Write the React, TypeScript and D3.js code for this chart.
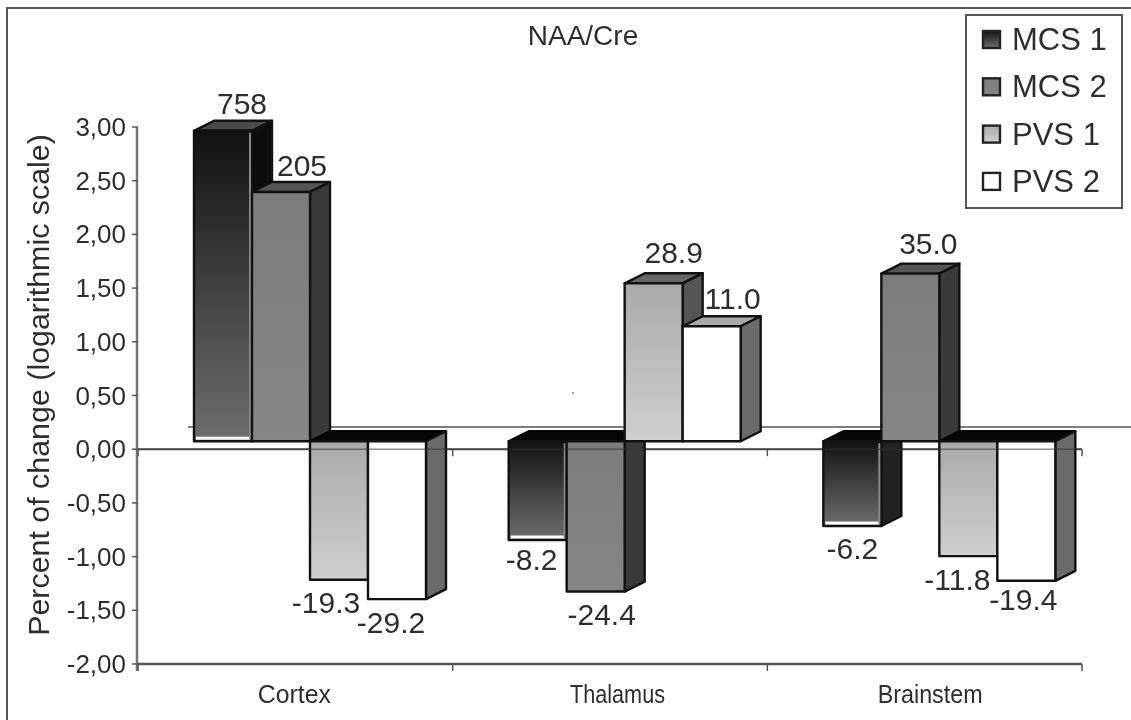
import React from "react";
import * as d3 from "d3";

const categories = ["Cortex", "Thalamus", "Brainstem"];
const seriesNames = ["MCS 1", "MCS 2", "PVS 1", "PVS 2"];
const mcs1 = [2.89, -0.92, -0.79];
const mcs2 = [2.32, -1.4, 1.56];
const pvs1 = [-1.29, 1.47, -1.07];
const pvs2 = [-1.47, 1.07, -1.3];
const mcs1Labels = ["758", "-8.2", "-6.2"];
const mcs2Labels = ["205", "-24.4", "35.0"];
const pvs1Labels = ["-19.3", "28.9", "-11.8"];
const pvs2Labels = ["-29.2", "11.0", "-19.4"];
const yTicks = [3, 2.5, 2, 1.5, 1, 0.5, 0, -0.5, -1, -1.5, -2];

const allValues = [mcs1, mcs2, pvs1, pvs2];
const allLabels = [mcs1Labels, mcs2Labels, pvs1Labels, pvs2Labels];
const fills = ["url(#g1)", "url(#g2)", "url(#g3)", "#fff"];
const sideFills = ["#0c0c0c", "#3a3a3a", "#555", "#6a6a6a"];
const topFills = ["#4a4a4a", "#555", "#666", "#aaa"];
const labelNudgeX = [[19, -6, 0], [21, 6, 18], [-13, 20, -11], [-6, 21, -3]];
const labelNudgeY = [[3, 2, 5], [4, 5, 0], [5, 0, 6], [6, 3, 1]];
const categoryNudge = [-1, 7.5, 5.5];
const categoryWidths = [73, 95, 105];

const W = 1131, H = 720;
const font = "Liberation Sans, Arial, sans-serif";
const ink = "#2e2e2e";
const fmt = (v: number) => d3.format(".2f")(v).replace(".", ",").replace("−", "-");

export default function App() {
  const y = d3.scaleLinear().domain([-2, 3]).range([664, 127]);
  const x0 = d3.scaleBand<string>().domain(categories).range([138, 1082]);
  const x1 = d3.scaleBand<string>().domain(seriesNames).range([56, 288]);
  const dx = 20, dy = 10, lift = 8;
  const base = y(0) - lift;
  const order: { s: number; c: number }[] = [];
  categories.forEach((_, c) => seriesNames.forEach((_, s) => order.push({ s, c })));
  return (
    <svg width={W} height={H} viewBox={`0 0 ${W} ${H}`} style={{ position: "absolute", left: 0, top: 0, background: "#fff", filter: "blur(0.6px)" }}>
      <defs>
        <linearGradient id="g1" x1="0" y1="0" x2="0" y2="1">
          <stop offset="0" stopColor="#111" />
          <stop offset="1" stopColor="#6e6e6e" />
        </linearGradient>
        <linearGradient id="g2" x1="0" y1="0" x2="0" y2="1">
          <stop offset="0" stopColor="#7c7c7c" />
          <stop offset="1" stopColor="#868686" />
        </linearGradient>
        <linearGradient id="g3" x1="0" y1="0" x2="0" y2="1">
          <stop offset="0" stopColor="#aaa" />
          <stop offset="1" stopColor="#cfcfcf" />
        </linearGradient>
      </defs>
      <rect x={7} y={8} width={W} height={H} fill="#fff" stroke="#555" strokeWidth={2} />
      <line x1={188} x2={W} y1={427} y2={427} stroke="#555" strokeWidth={1.5} />
      <line x1={138} x2={1082} y1={y(0)} y2={y(0)} stroke="#555" strokeWidth={2} />
      <line x1={138} x2={1082} y1={y(-2)} y2={y(-2)} stroke="#555" strokeWidth={2.5} />
      <line x1={137} x2={137} y1={y(3)} y2={y(-2) + 7} stroke="#777" strokeWidth={2.5} />
      {yTicks.map((t) => (
        <g key={t}>
          <line x1={132} x2={138} y1={y(t)} y2={y(t)} stroke="#555" strokeWidth={1.5} />
          <text x={126} y={y(t) + 9} textAnchor="end" fontFamily={font} fontSize={26} fill={ink}>{fmt(t)}</text>
        </g>
      ))}
      {[...categories.map((c) => x0(c)!), 1082].map((xv, i) => (
        <g key={i}>
          <line x1={xv} x2={xv} y1={y(0)} y2={y(0) + 7} stroke="#555" strokeWidth={1.5} />
          <line x1={xv} x2={xv} y1={y(-2)} y2={y(-2) + 7} stroke="#555" strokeWidth={1.5} />
        </g>
      ))}
      {categories.map((c, i) => (
        <text key={c} x={x0(c)! + x0.bandwidth() / 2 + categoryNudge[i]} y={703} textAnchor="middle" textLength={categoryWidths[i]} lengthAdjust="spacingAndGlyphs" fontFamily={font} fontSize={25} fill={ink}>{c}</text>
      ))}
      <text transform="translate(49,385) rotate(-90)" textAnchor="middle" fontFamily={font} fontSize={30.4} fill={ink}>Percent of change (logarithmic scale)</text>
      <text x={583} y={45} textAnchor="middle" fontFamily={font} fontSize={28} fill={ink}>NAA/Cre</text>
      <circle cx={573} cy={393} r={1} fill="#888" />

      {order.map(({ s, c }) => {
        const v = allValues[s][c];
        const bx = x0(categories[c])! + x1(seriesNames[s])!;
        const bw = x1.bandwidth();
        const vy = base - (y(0) - y(v));
        const top = Math.min(base, vy), bot = Math.max(base, vy);
        return (
          <g key={`${s}-${c}`} stroke="#111" strokeWidth={2.4} strokeLinejoin="round">
            <path d={`M${bx},${top}L${bx + dx},${top - dy}H${bx + bw + dx}L${bx + bw},${top}Z`} fill={v < 0 ? "#050505" : topFills[s]} stroke={v < 0 ? "#050505" : "#111"} />
            <path d={`M${bx + bw},${top}L${bx + bw + dx},${top - dy}V${bot - dy}L${bx + bw},${bot}Z`} fill={s === 0 && v < 0 ? "#222" : sideFills[s]} />
            <rect x={bx} y={top} width={bw} height={bot - top} fill={fills[s]} />
            {s === 0 && (
              <g stroke="none">
                <rect x={bx + 2} y={bot - 4.5} width={bw - 4} height={3} fill="#fff" />
                <rect x={bx + bw - 3} y={top + 2} width={2} height={bot - top - 4} fill="#888" />
              </g>
            )}
          </g>
        );
      })}
      <line x1={138} x2={1082} y1={y(0)} y2={y(0)} stroke="#333" strokeWidth={1.5} opacity={0.55} />
      {order.map(({ s, c }) => {
        const v = allValues[s][c];
        const bx = x0(categories[c])! + x1(seriesNames[s])!;
        const bw = x1.bandwidth();
        const vy = base - (y(0) - y(v));
        const ty = v >= 0 ? vy - 20 : vy + 28;
        return (
          <text key={`l${s}-${c}`} x={bx + bw / 2 + labelNudgeX[s][c]} y={ty + labelNudgeY[s][c]} textAnchor="middle" fontFamily={font} fontSize={30} fill={ink}>{allLabels[s][c]}</text>
        );
      })}

      <rect x={966} y={15} width={156} height={193} fill="#fff" stroke="#555" strokeWidth={2} />
      {seriesNames.map((n, i) => (
        <g key={n}>
          <rect x={983} y={31 + i * 47.3} width={17} height={17} fill={fills[i]} stroke="#222" strokeWidth={2.4} />
          <text x={1012} y={50 + i * 47.3} fontFamily={font} fontSize={31} fill={ink}>{n}</text>
        </g>
      ))}
    </svg>
  );
}
